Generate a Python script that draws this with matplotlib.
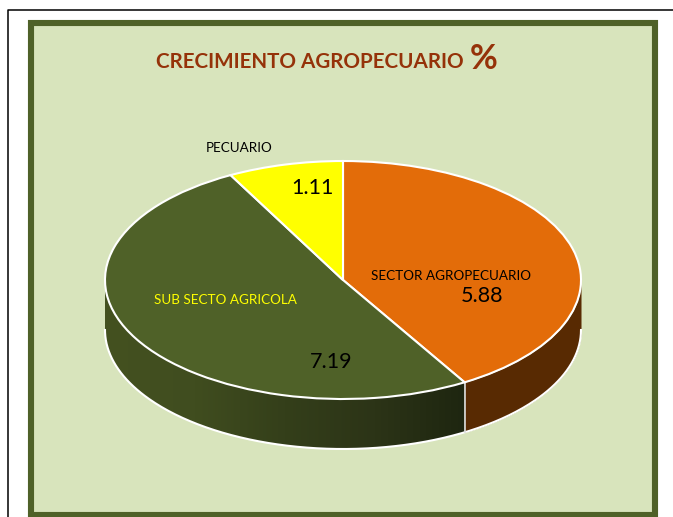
import matplotlib.pyplot as plt
from matplotlib.colors import LinearSegmentedColormap
from matplotlib.patches import Rectangle, Polygon
import numpy as np

plt.rcParams['font.family'] = ['Lato', 'DejaVu Sans']

# Datos del grafico
labels = ['SECTOR AGROPECUARIO', 'SUB SECTO AGRICOLA', 'PECUARIO']
values = [5.88, 7.19, 1.11]
colors = ['#e36c09', '#4f6128', '#ffff00']
title = 'CRECIMIENTO AGROPECUARIO'

W, H = 673, 517
cx, cy = 343, 280       # centro de la elipse en pixeles
rx, ry = 238, 119
depth = 50

fig = plt.figure(figsize=(W / 100, H / 100), dpi=100)

# Fondo y marco en coordenadas de pixeles
bg = fig.add_axes([0, 0, 1, 1])
bg.set_xlim(0, W)
bg.set_ylim(H, 0)
bg.axis('off')
bg.plot([7.5, 7.5, W], [H, 9.5, 9.5], color='black', lw=1.1)
bg.add_patch(Rectangle((31, 22.5), 624, 492, facecolor='#d8e4bc', edgecolor='#4f6128', lw=4.4))

# Pastel: radio 1 en x e y, la escala de los ejes lo aplasta
ax = fig.add_axes([0, 0, 1, 1])
ax.patch.set_alpha(0)
wedges, _ = ax.pie(values, colors=colors, startangle=90, counterclock=False, radius=1,
                   wedgeprops={'edgecolor': 'white', 'linewidth': 1.5, 'zorder': 5})
ax.set_aspect('auto')

# Lado del pastel (solo la parte frontal de las dos primeras porciones)
dy = depth / ry
ends = np.cumsum(values) / np.sum(values) * 360
t_split = np.radians(ends[0])

t = np.linspace(np.pi / 2, t_split, 60)
ax.fill_between(np.sin(t), np.cos(t), np.cos(t) - dy, color='#582a02', lw=0, zorder=1)

# Degradado horizontal del lado verde, recortado a su contorno
side_dark = LinearSegmentedColormap.from_list(
    'side', ['#445120', '#404d1f', '#343f1a', '#2c3417', '#1e2610'])
t = np.linspace(t_split, 3 * np.pi / 2, 200)
outline = np.column_stack([np.r_[np.sin(t), np.sin(t)[::-1]],
                           np.r_[np.cos(t), (np.cos(t) - dy)[::-1]]])
img = ax.imshow(np.linspace(0, 1, 256)[None, :], cmap=side_dark, aspect='auto', zorder=1,
                extent=(-1, np.sin(t_split), -1 - dy, 0.1))
img.set_clip_path(Polygon(outline, transform=ax.transData))

# Bordes blancos del lado
t = np.linspace(np.pi / 2, 3 * np.pi / 2, 300)
ax.plot(np.sin(t), np.cos(t) - dy, color='white', lw=1.5, zorder=2)
ax.plot([np.sin(t_split)] * 2, [np.cos(t_split), np.cos(t_split) - dy], color='#d8d8d8', lw=1.2, zorder=2)

ax.set_xlim(-cx / rx, (W - cx) / rx)
ax.set_ylim(-(H - cy) / ry, cy / ry)
ax.axis('off')

# Textos
bg.text(310, 62, title, color='#953209', fontsize=14.9, fontweight='bold', ha='center', va='center')

top = fig.add_axes([0, 0, 1, 1])
top.set_xlim(0, W)
top.set_ylim(H, 0)
top.axis('off')
top.text(484, 59, '%', color='#953209', fontsize=24.5, fontweight='bold', ha='center', va='center')
top.text(451, 275.5, labels[0], fontsize=9.7, color='black', ha='center', va='center')
top.text(482, 296, f'{values[0]:.2f}', fontsize=15.5, color='black', ha='center', va='center')
top.text(225, 300.5, labels[1], fontsize=9.7, color='#ffff00', ha='center', va='center')
top.text(331, 362, f'{values[1]:.2f}', fontsize=15.5, color='black', ha='center', va='center')
top.text(239, 147.5, labels[2], fontsize=9.7, color='black', ha='center', va='center')
top.text(312, 188, f'{values[2]:.2f}', fontsize=15.5, color='black', ha='center', va='center')

fig.savefig('out.png', dpi=100)
plt.close()
